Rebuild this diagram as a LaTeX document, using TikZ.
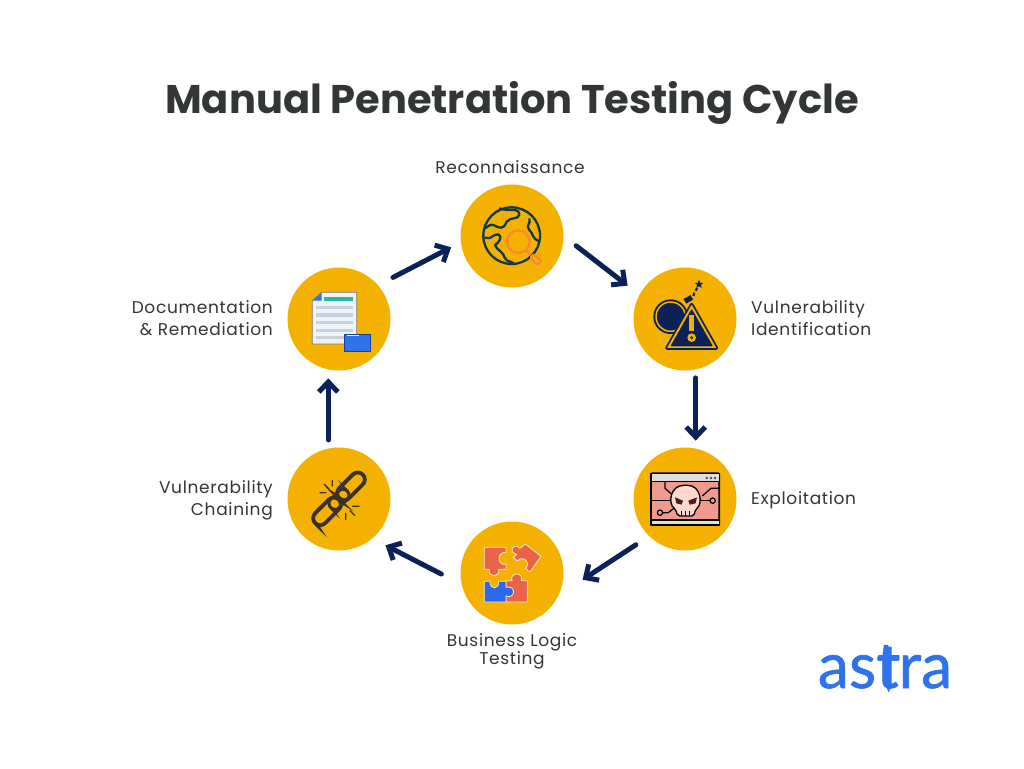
\documentclass[tikz,border=0pt]{standalone}
\usepackage{fontspec}
\setmainfont{Poppins}
\newfontfamily\labelfont[LetterSpace=4]{Poppins}
\newfontfamily\logofont[FakeBold=0.9]{Lato}
\usetikzlibrary{arrows.meta,shapes.geometric}
\definecolor{gold}{HTML}{F5B100}
\definecolor{navy}{HTML}{0B2158}
\definecolor{ink}{HTML}{333637}
\definecolor{globec}{HTML}{12394A}
\definecolor{orng}{HTML}{F58A33}
\definecolor{salmon}{HTML}{EF9A8C}
\definecolor{skullc}{HTML}{FFD8CF}
\definecolor{eyec}{HTML}{4A2020}
\definecolor{pzred}{HTML}{E8634A}
\definecolor{pzblue}{HTML}{2A6AE8}
\definecolor{astra}{HTML}{2F72EC}
\definecolor{chainc}{HTML}{3A3324}
\definecolor{paper}{HTML}{EEF2F9}
\definecolor{docline}{HTML}{C8D0E0}
\definecolor{docgreen}{HTML}{2EB89A}
\tikzset{
 stage/.style={circle,fill=gold,minimum size=103pt,inner sep=0pt,outer sep=0pt},
 flow/.style={draw=navy,line width=5pt,line cap=round,-{Straight Barb[length=10pt,width=19pt,line width=5pt]}},
 steplabel/.style={text=ink,font=\labelfont\fontsize{17}{22}\selectfont,inner sep=0pt},
 zoomed/.style={x=0.3333pt,y=-0.3333pt}
}
\begin{document}
\begin{tikzpicture}[x=1pt,y=-1pt]
\useasboundingbox (0,0) rectangle (1024,768);
\fill[white] (0,0) rectangle (1024,768);
\node[text=ink,font=\fontsize{40}{48}\selectfont\bfseries,inner sep=0pt,anchor=base] (title) at (512,113) {Manual Penetration Testing Cycle};
\node[stage] (recon) at (512,236) {};
\node[stage] (vuln) at (685,319) {};
\node[stage] (expl) at (685,499) {};
\node[stage] (biz) at (512,573) {};
\node[stage] (chain) at (339,499) {};
\node[stage] (docs) at (339,319) {};
\draw[flow,shorten <=17pt,shorten >=11pt] (docs.41.5) -- (recon.187);
\draw[flow,shorten <=16pt,shorten >=15pt] (recon.0) -- (vuln.152.6);
\draw[flow,shorten <=8.5pt,shorten >=8pt] (vuln.-78.8) -- (expl.78.8);
\draw[flow,shorten <=16pt,shorten >=29pt] (expl.226.3) -- (biz.-26.5);
\draw[flow,shorten <=23pt,shorten >=15pt] (biz.193) -- (chain.-50.5);
\draw[flow,shorten <=8.7pt,shorten >=9pt] (chain.102.3) -- (docs.-102.3);
\node[steplabel] (lrecon) at (510,167) {Reconnaissance};
\node[steplabel,anchor=west,align=left] (lvuln) at (751,318) {Vulnerability\\Identification};
\node[steplabel,anchor=west] (lexpl) at (751,500) {Exploitation};
\node[steplabel,align=center,font=\labelfont\fontsize{17}{18}\selectfont] (lbiz) at (512,651) {Business Logic\\Testing};
\node[steplabel,anchor=east,align=right] (lchain) at (273,500) {Vulnerability\\Chaining};
\node[steplabel,anchor=east,align=right] (ldocs) at (273,318) {Documentation\\\& Remediation};
% globe
\begin{scope}[shift={(450,175)},zoomed,line width=2.3pt,draw=globec,line cap=round,line join=round]
\draw (185,182) circle[radius=85];
\draw (150,100) .. controls (175,112) and (205,95) .. (208,118) .. controls (208,135) and (180,125) .. (170,140) .. controls (160,165) and (150,160) .. (130,150) .. controls (120,145) and (110,160) .. (103,160);
\draw (238,132) .. controls (245,145) and (225,150) .. (238,165) .. controls (250,175) and (245,190) .. (266,198);
\draw (106,188) .. controls (125,195) and (125,178) .. (145,178) .. controls (160,185) and (145,205) .. (135,210) .. controls (145,230) and (160,230) .. (165,250) .. controls (172,262) and (185,258) .. (190,265);
\draw[orng] (205,200) circle[radius=34];
\draw[orng] (229,225) -- (240,238);
\draw[orng,rounded corners=1.5pt] (240,248) -- (252,238) -- (275,258) -- (262,270) -- cycle;
\end{scope}
% bomb and warning
\begin{scope}[shift={(625,260)},zoomed,line join=round]
\fill[navy] (137,170) circle[radius=52];
\draw[gold,line width=1.5pt] (137,170) circle[radius=44];
\fill[navy] (137,170) circle[radius=38];
\fill[navy,rotate around={30:(190,118)}] (178,110) rectangle (202,126);
\draw[navy,line width=2.2pt] (205,108) -- (208,98);
\draw[navy,line width=2.2pt] (212,92) -- (216,84);
\node[star,star points=5,star point ratio=2.3,fill=navy,minimum size=9pt,inner sep=0pt] (spark) at (222,73) {};
\draw[navy,line width=1.6pt,fill=gold,rounded corners=2pt] (200,128) -- (279,267) -- (121,267) -- cycle;
\fill[navy,rounded corners=1pt] (200,146) -- (264,259) -- (136,259) -- cycle;
\draw[gold,line width=5pt] (200,165) -- (200,212);
\fill[gold] (200,233) circle[radius=13];
\fill[navy] (200,233) circle[radius=5];
\end{scope}
% skull window
\begin{scope}[shift={(625,440)},zoomed,line join=round]
\draw[black,line width=1.7pt,fill=salmon,rounded corners=1pt] (78,100) rectangle (283,255);
\draw[black,line width=1.2pt,fill=gray!25] (78,100) rectangle (283,125);
\draw[black,line width=1.2pt,fill=gray!25] (78,240) rectangle (283,255);
\foreach \dotx in {245,258,270} \fill[black!70] (\dotx,114) circle[radius=4];
\draw[black,line width=1.2pt] (120,125) -- (120,145) -- (148,170);
\draw[black,line width=1.2pt] (78,182) -- (140,182);
\draw[black,line width=1.2pt] (113,218) -- (130,218) -- (150,202);
\draw[black,line width=1.2pt] (283,145) -- (258,145) -- (232,168);
\draw[black,line width=1.2pt] (255,182) -- (218,182);
\draw[black,line width=1.2pt,fill=salmon] (105,218) circle[radius=8];
\draw[black,line width=1.2pt,fill=salmon] (263,182) circle[radius=8];
\draw[black,line width=1.3pt,fill=skullc,rounded corners=2pt] (158,228) -- (206,228) -- (212,208) .. controls (234,190) and (227,136) .. (182,136) .. controls (136,136) and (128,190) .. (152,208) -- cycle;
\fill[eyec] (150,172) -- (174,182) -- (170,194) -- (154,190) -- cycle;
\fill[eyec] (216,172) -- (190,182) -- (194,194) -- (212,190) -- cycle;
\draw[black,line width=1pt] (170,212) -- (170,228) (182,212) -- (182,228) (194,212) -- (194,228);
\end{scope}
% puzzle
\begin{scope}[shift={(450,515)},zoomed,draw=white!75!gold,line width=.8pt,line join=round]
\filldraw[fill=pzred] (103,97) -- (168,97) -- (168,112) .. controls (140,110) and (140,152) .. (168,148) -- (168,163) -- (146,163) .. controls (152,188) and (112,188) .. (118,163) -- (103,163) -- cycle;
\filldraw[fill=pzred] (226,87) -- (273,124) -- (240,171) -- (226,160) .. controls (245,145) and (220,118) .. (203,138) -- (190,128) -- (200,118) .. controls (172,112) and (190,80) .. (210,100) -- cycle;
\filldraw[fill=pzred] (168,197) -- (186,197) .. controls (178,170) and (222,170) .. (214,197) -- (232,197) -- (232,261) -- (168,261) -- cycle;
\filldraw[fill=pzblue] (103,199) -- (120,199) .. controls (118,225) and (148,225) .. (146,199) -- (168,199) -- (168,217) .. controls (198,208) and (198,254) .. (168,243) -- (168,261) -- (103,261) -- cycle;
\end{scope}
% chain
\begin{scope}[shift={(280,440)},zoomed,draw=chainc,line cap=round]
\draw[line width=3.8pt,rounded corners=7pt,rotate around={45:(213,139)}] (163,118) rectangle (263,160);
\draw[line width=3.8pt,rounded corners=7pt,rotate around={45:(141,214)}] (91,193) rectangle (191,235);
\draw[line width=3pt,rounded corners=6pt,rotate around={45:(177,178)}] (142,160) rectangle (212,196);
\draw[line width=1.2pt] (120,158) -- (138,158) (133,133) -- (147,147) (157,122) -- (157,138) (218,199) -- (237,199) (210,212) -- (224,226) (197,220) -- (197,238);
\end{scope}
% document
\begin{scope}[shift={(280,260)},zoomed]
\draw[fill=paper,draw=gray,line width=.8pt] (125,97) -- (230,97) -- (230,252) -- (97,252) -- (97,122) -- cycle;
\fill[astra] (97,122) -- (125,97) -- (125,122) -- cycle;
\fill[docgreen] (132,112) rectangle (220,122);
\foreach \liney in {143,165,188,211,233} \fill[docline] (108,\liney-5) rectangle (220,\liney+5);
\draw[fill=astra,draw=navy!60!astra,line width=.8pt] (193,222) -- (270,222) -- (270,275) -- (193,275) -- cycle;
\fill[paper] (200,224) rectangle (238,229);
\end{scope}
% logo
\node[text=astra,font=\logofont\fontsize{64}{66}\selectfont,inner sep=0pt,anchor=base,xscale=.98] (logo) at (885,688) {astra};
\begin{scope}[shift={(810,640)},zoomed]
\fill[astra] (228,20) -- (245,20) -- (245,45) -- (268,45) -- (268,62) -- (245,62) -- (245,135) -- (236,157) -- (226,135) -- (226,62) -- (205,62) -- (205,45) -- (228,45) -- cycle;
\end{scope}
\end{tikzpicture}
\end{document}
